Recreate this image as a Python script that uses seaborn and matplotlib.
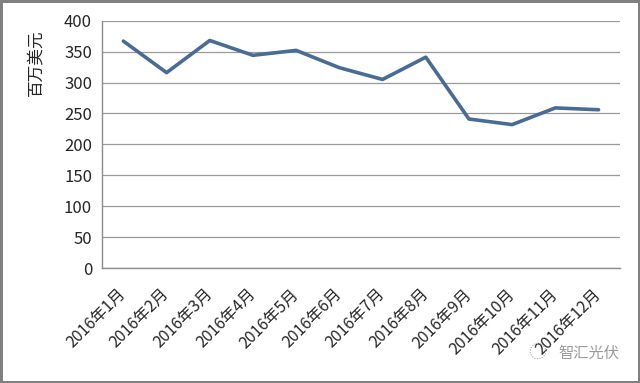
import numpy as np
import pandas as pd
import matplotlib
matplotlib.use('Agg')
import matplotlib.pyplot as plt
import seaborn as sns

months = ['2016年1月', '2016年2月', '2016年3月', '2016年4月', '2016年5月', '2016年6月',
          '2016年7月', '2016年8月', '2016年9月', '2016年10月', '2016年11月', '2016年12月']
values = [367, 316, 368, 344, 352, 324, 305, 341, 241, 232, 259, 256]
y_ticks = [0, 50, 100, 150, 200, 250, 300, 350, 400]

df = pd.DataFrame({'month': months, 'value': values})

sns.set_style('white')
plt.rcParams['font.family'] = ['Noto Sans CJK SC', 'DejaVu Sans']

fig = plt.figure(figsize=(6.4, 3.83), dpi=100)
fig.patch.set_edgecolor('#808080')
fig.patch.set_linewidth(2.5)
ax = fig.add_axes([0.159, 0.300, 0.810, 0.646])

sns.lineplot(data=df, x='month', y='value', ax=ax, color='#4A6C94',
             linewidth=2.6, sort=False)

ax.set_ylim(0, 400)
ax.set_xlim(-0.5, 11.5)
ax.set_yticks(y_ticks)
ax.yaxis.grid(True, color='#9a9a9a', linewidth=0.9)
ax.set_axisbelow(True)

ax.set_xticks(range(len(months)))
ax.set_xticklabels(months, rotation=45, ha='right', rotation_mode='anchor',
                   va='center', fontsize=11.5, fontweight='medium')
ax.set_xticks(np.arange(-0.5, 12, 1), minor=True)
ax.tick_params(axis='x', which='major', length=0, pad=17)
ax.tick_params(axis='x', which='minor', length=4, color='#888888', direction='out')
ax.tick_params(axis='y', length=4, color='#888888', direction='out', labelsize=12, pad=3)

for s in ['top', 'right']:
    ax.spines[s].set_visible(False)
for s in ['left', 'bottom']:
    ax.spines[s].set_color('#8c8c8c')
    ax.spines[s].set_linewidth(1)

ax.set_xlabel('')
ax.set_ylabel('百万美元', fontsize=12, fontweight='medium')
ax.yaxis.set_label_coords(-0.11, 0.83)

fig.text(0.968, 0.078, '智汇光伏', ha='right', va='center', fontsize=11, color='#9a9a9a')
fig.text(0.84, 0.078, '◌', ha='center', va='center', fontsize=13, color='#b0b0b0')

fig.savefig('out.png', dpi=100)
